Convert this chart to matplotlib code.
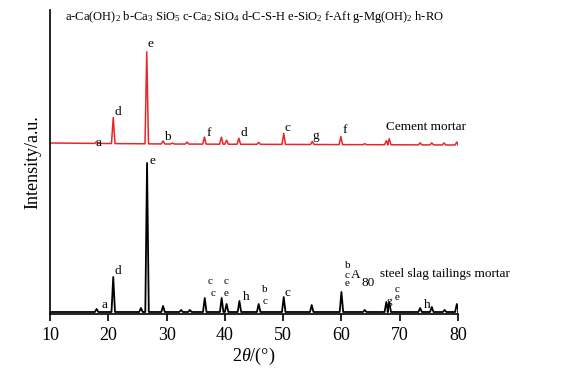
import matplotlib
matplotlib.use("Agg")
import matplotlib.pyplot as plt

plt.rcParams['font.family'] = ['Liberation Serif', 'DejaVu Serif']
plt.rcParams['mathtext.fontset'] = 'custom'
plt.rcParams['mathtext.rm'] = 'Liberation Serif'
plt.rcParams['mathtext.it'] = 'Liberation Serif:italic'

# ---- data (2theta in degrees, intensity in arbitrary units) ----
red_peak_pos = [18.0, 20.85, 26.6, 29.4, 31.0, 33.5, 36.5, 39.4, 40.3, 42.4, 45.8,
                50.1, 55.0, 59.9, 64.0, 67.7, 68.2, 73.5, 75.5, 77.6, 79.8]
red_peak_h = [2, 26, 92, 3, 1, 2, 7, 7, 4, 6, 2,
              11, 3, 8, 1, 4, 6, 2, 2, 2, 3]
red_base = [171, 170, 169.5, 169]          # baseline at 10, 30, 55, 80
red_base_x = [10, 30, 55, 80]

blk_peak_pos = [18.0, 20.85, 25.6, 26.65, 29.4, 32.5, 34.0, 36.55, 39.45, 40.3, 42.5,
                45.8, 50.1, 54.9, 60.0, 64.0, 67.7, 68.2, 73.5, 75.5, 77.7, 79.8]
blk_peak_h = [3, 35, 4, 149, 6, 2, 2, 14, 14, 8, 11,
              8, 15, 7, 20, 2, 10, 10, 4, 5, 2, 8]
blk_base_x = [10, 80]
blk_base = [2, 2]

xticks = [10, 20, 30, 40, 50, 60, 70, 80]


def profile(pos, hts, bx, by, hw=0.3):
    import numpy as np
    xs = [bx[0]]
    for p in pos:
        xs += [p - hw, p, p + hw]
    xs.append(bx[-1])
    base = list(np.interp(xs, bx, by))
    ys = list(base)
    for i, h in enumerate(hts):
        ys[2 + 3 * i] = base[2 + 3 * i] + h
    return xs, ys


fig = plt.figure(figsize=(5.73, 3.68), dpi=100)
ax = fig.add_axes([50 / 573, 1 - 314 / 368, 408 / 573, 304 / 368])

rx, ry = profile(red_peak_pos, red_peak_h, red_base_x, red_base)
bx_, by_ = profile(blk_peak_pos, blk_peak_h, blk_base_x, blk_base)
ax.plot(rx, ry, color='#e8262a', lw=1.1)
ax.plot(bx_, by_, color='black', lw=1.3)

ax.set_xlim(10, 80)
ax.set_ylim(0, 304)
ax.set_xticks(xticks)
ax.set_yticks([])
for s in ['top', 'right']:
    ax.spines[s].set_visible(False)
ax.spines['left'].set_linewidth(1.2)
ax.spines['bottom'].set_linewidth(1.2)
ax.tick_params(axis='x', direction='out', length=5, width=1.2, labelsize=13, pad=4)
ax.set_xlabel(r'2$\mathit{\theta}$/(°)', fontsize=13, labelpad=2)
ax.set_ylabel('Intensity/a.u.', fontsize=13, labelpad=6)

fs = 9.5
fs2 = 8
ax.text(12.6, 297, r'a-Ca(OH)$_2$ b-Ca$_3$ SiO$_5$ c-Ca$_2$ SiO$_4$ d-C-S-H e-SiO$_2$ f-Aft g-Mg(OH)$_2$ h-RO',
        fontsize=9, va='center', ha='left')

red_labels = [("a", 18.4, 171), ("d", 21.7, 202), ("e", 27.2, 270), ("b", 30.2, 177),
              ("f", 37.3, 181), ("d", 43.3, 181), ("c", 50.7, 186), ("g", 55.5, 178),
              ("f", 60.6, 184)]
for t, x, y in red_labels:
    ax.text(x, y, t, fontsize=fs, ha='center', va='center')
ax.text(67.6, 187, "Cement mortar", fontsize=fs, ha='left', va='center')

blk_labels = [("e", 27.5, 153), ("d", 21.7, 43), ("a", 19.3, 9), ("h", 43.6, 17),
              ("c", 50.7, 21), ("h", 74.7, 9)]
for t, x, y in blk_labels:
    ax.text(x, y, t, fontsize=fs, ha='center', va='center')
stacked = [("c", 37.4, 32), ("c", 38.0, 20), ("c", 40.2, 32), ("e", 40.2, 21),
           ("b", 46.9, 24), ("c", 46.9, 13), ("b", 61.0, 48), ("c", 61.0, 39),
           ("e", 61.0, 30), ("c", 69.5, 25), ("e", 69.5, 16), ("g", 68.3, 12)]
for t, x, y in stacked:
    ax.text(x, y, t, fontsize=fs2, ha='center', va='center')
ax.text(62.4, 39, "A", fontsize=fs, ha='center', va='center')
ax.text(64.6, 31, "80", fontsize=fs, ha='center', va='center')
ax.text(66.6, 40, "steel slag tailings mortar", fontsize=fs, ha='left', va='center')

fig.savefig("out.png", dpi=100)
